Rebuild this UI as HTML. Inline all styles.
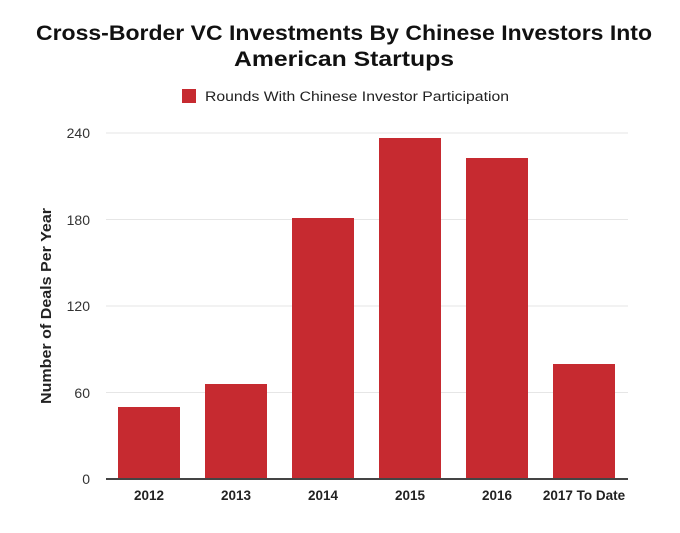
<!DOCTYPE html>
<html><head><meta charset="utf-8"><style>body{margin:0;background:#fff}svg{display:block}</style></head>
<body>
<svg width="680" height="533" xmlns="http://www.w3.org/2000/svg" font-family="Liberation Sans, sans-serif">
<rect width="680" height="533" fill="#fff"/>
<text x="344" y="40" text-anchor="middle" font-size="21" font-weight="bold" fill="#111" textLength="616" lengthAdjust="spacingAndGlyphs">Cross-Border VC Investments By Chinese Investors Into</text>
<text x="344" y="66" text-anchor="middle" font-size="21" font-weight="bold" fill="#111" textLength="220" lengthAdjust="spacingAndGlyphs">American Startups</text>
<rect x="182" y="89" width="14" height="14" fill="#c62a30"/>
<text x="205" y="101" font-size="13.5" fill="#222" textLength="304" lengthAdjust="spacingAndGlyphs">Rounds With Chinese Investor Participation</text>
<g stroke="#e6e6e6" stroke-width="1">
<line x1="106" y1="133" x2="628" y2="133"/>
<line x1="106" y1="219.5" x2="628" y2="219.5"/>
<line x1="106" y1="306" x2="628" y2="306"/>
<line x1="106" y1="392.5" x2="628" y2="392.5"/>
</g>
<g font-size="14" fill="#333" text-anchor="end">
<text x="90" y="138">240</text>
<text x="90" y="225">180</text>
<text x="90" y="311">120</text>
<text x="90" y="398">60</text>
<text x="90" y="484">0</text>
</g>
<text transform="translate(51,306) rotate(-90)" text-anchor="middle" font-size="14.5" font-weight="bold" fill="#222" textLength="196" lengthAdjust="spacingAndGlyphs">Number of Deals Per Year</text>
<g fill="#c62a30">
<rect x="118" y="407" width="62" height="72"/>
<rect x="205" y="384" width="62" height="95"/>
<rect x="292" y="218" width="62" height="261"/>
<rect x="379" y="138" width="62" height="341"/>
<rect x="466" y="158" width="62" height="321"/>
<rect x="553" y="364" width="62" height="115"/>
</g>
<line x1="106" y1="479" x2="628" y2="479" stroke="#444" stroke-width="2"/>
<g font-size="13.5" font-weight="bold" fill="#222" text-anchor="middle">
<text x="149" y="500">2012</text>
<text x="236" y="500">2013</text>
<text x="323" y="500">2014</text>
<text x="410" y="500">2015</text>
<text x="497" y="500">2016</text>
<text x="584" y="500">2017 To Date</text>
</g>
</svg>
</body></html>
